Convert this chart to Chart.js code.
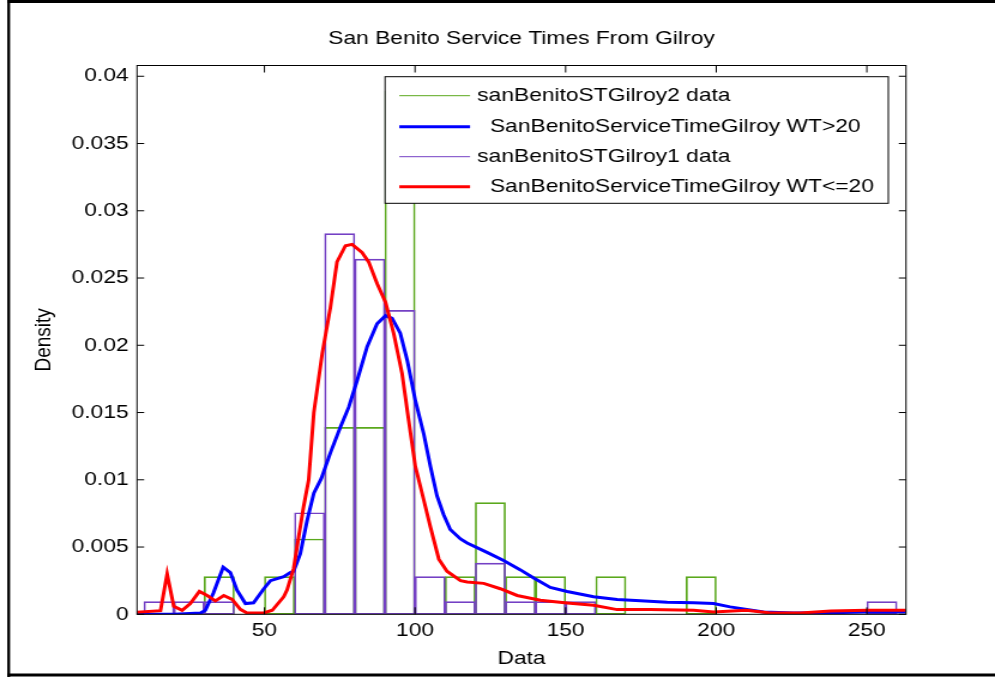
<!DOCTYPE html>
<html>
<head>
<meta charset="utf-8">
<title>San Benito Service Times From Gilroy</title>
<script src="https://cdn.jsdelivr.net/npm/chart.js@4.4.1/dist/chart.umd.min.js"></script>
<style>
	html, body { margin: 0; padding: 0; background: #fff; }
	#canvas-hist-gilroy { display: block; }
</style>
</head>
<body>
<!-- drawn 830 wide and stretched to 995, the reference figure is stretched sideways the same way -->
<canvas id="canvas-hist-gilroy" width="830" height="677" style="width:995px;height:677px"></canvas>
<script>
var binCenters = [15, 25, 35, 45, 55, 65, 75, 85, 95, 105, 115, 125, 135, 145, 155, 165, 175, 185, 195, 205, 215, 225, 235, 245, 255];
var gilroy2Density = [0, 0, 0.0028, 0, 0.0028, 0.0056, 0.0139, 0.0139, 0.0389, 0, 0.0028, 0.0083, 0.0028, 0.0028, 0, 0.0028, 0, 0, 0.0028, 0, 0, 0, 0, 0, 0];
var gilroy1Density = [0.00094, 0.00094, 0.00094, 0, 0, 0.00755, 0.0283, 0.0264, 0.0226, 0.0028, 0.00094, 0.0038, 0.00094, 0.00094, 0.00094, 0, 0, 0, 0, 0, 0, 0, 0, 0, 0.00094];

var wtOver20X = [7.7, 20, 28.8, 30.4, 33.1, 36.3, 38.7, 40.9, 43.7, 46.4, 49.8, 52, 56.4, 58.6, 59.7, 61.9, 64.2, 66.4, 68.9, 71.9, 75.2, 78, 80.8, 84.1, 87.4, 90.2, 92.4, 95.1, 97.4, 100.1, 102.9, 105.1, 107.3, 109.5, 111.7, 115.1, 117.3, 123.9, 129.4, 135, 139.4, 144.9, 150.5, 159.3, 167.1, 174.8, 183.7, 192.5, 199.1, 204.6, 215.7, 225.7, 237.9, 250, 263];
var wtOver20Y = [0, 0, 0.0001, 0.0003, 0.0016, 0.0035, 0.0031, 0.0018, 0.0008, 0.00085, 0.0019, 0.0025, 0.0028, 0.0031, 0.0032, 0.0045, 0.007, 0.009, 0.0101, 0.012, 0.0139, 0.0154, 0.0174, 0.0199, 0.0216, 0.0222, 0.022, 0.0209, 0.0189, 0.0159, 0.0134, 0.011, 0.0088, 0.0074, 0.0063, 0.0056, 0.0053, 0.0046, 0.004, 0.0033, 0.0027, 0.002, 0.0017, 0.0013, 0.0011, 0.001, 0.0009, 0.00085, 0.0008, 0.00055, 0.00017, 0.0001, 0.00012, 0.00017, 0.00017];

var wtUnder20X = [7.7, 15.5, 17.7, 19.9, 22.7, 25.4, 28.4, 31, 33.7, 36.5, 39.3, 42, 44.2, 49.8, 52.6, 56.4, 57.5, 59.7, 61.4, 63, 64.7, 66.4, 69.2, 71.9, 74.1, 76.9, 79.1, 82.4, 84.6, 87.4, 90.2, 92.9, 95.7, 97.9, 100.1, 102.9, 105.1, 107.9, 110.6, 115.1, 117.3, 122.8, 128.3, 133.9, 141.6, 150.5, 159.3, 167.1, 178.1, 192.5, 199.1, 210, 218, 228, 238, 250, 263];
var wtUnder20Y = [0.00015, 0.00027, 0.003, 0.0006, 0.0003, 0.0008, 0.0017, 0.0014, 0.001, 0.0014, 0.0011, 0.00037, 0.0001, 0.0001, 0.0003, 0.0013, 0.0018, 0.0034, 0.0058, 0.008, 0.01, 0.015, 0.0194, 0.0228, 0.0262, 0.0274, 0.0275, 0.0269, 0.0262, 0.0246, 0.0232, 0.0209, 0.0179, 0.0144, 0.011, 0.0085, 0.0065, 0.0041, 0.0032, 0.0025, 0.0024, 0.0023, 0.0019, 0.0014, 0.00104, 0.00084, 0.00067, 0.00035, 0.00035, 0.0003, 0.00017, 0.0003, 0.0001, 0.0001, 0.00025, 0.0003, 0.0003];

var xTickValues = [50, 100, 150, 200, 250];
var yTickValues = [0, 0.005, 0.01, 0.015, 0.02, 0.025, 0.03, 0.035, 0.04];
var legendLabels = ['sanBenitoSTGilroy2 data', '  SanBenitoServiceTimeGilroy WT>20', 'sanBenitoSTGilroy1 data', '  SanBenitoServiceTimeGilroy WT<=20'];

var _fuente = '"Liberation Sans", Arial, Helvetica, sans-serif';
var _verde = 'rgb(90,168,28)';
var _morado = 'rgb(116,64,196)';

Chart.defaults.font.family = _fuente;
Chart.defaults.font.size = 19;
Chart.defaults.color = '#000';

function puntos(xs, ys){
	return xs.map(function(x, i){ return {x: x, y: ys[i]}; });
}

function linea(ctx, x1, y1, x2, y2){
	ctx.beginPath();
	ctx.moveTo(x1, y1);
	ctx.lineTo(x2, y2);
	ctx.stroke();
}

var figuraMatlab = {
	id: 'figuraMatlab',
	beforeDraw: function(chart){
		var ctx = chart.ctx;
		ctx.save();
		ctx.fillStyle = '#fff';
		ctx.fillRect(0, 0, chart.width, chart.height);
		ctx.fillStyle = '#000';
		ctx.fillRect(6.1, 0, 2.3, chart.height);
		ctx.fillRect(6.1, 0, chart.width, 3);
		ctx.fillRect(6.1, 673.5, chart.width, 3);
		ctx.restore();
	},
	afterDatasetsDraw: function(chart){
		var ctx = chart.ctx;
		var a = chart.chartArea;
		var xs = chart.scales.x, ys = chart.scales.y;
		ctx.save();
		ctx.strokeStyle = '#000';
		ctx.lineWidth = 1;
		ctx.strokeRect(a.left, a.top, a.right - a.left, a.bottom - a.top);
		xs.ticks.forEach(function(t){
			var px = xs.getPixelForValue(t.value);
			linea(ctx, px, a.bottom, px, a.bottom - 7);
			linea(ctx, px, a.top, px, a.top + 7);
		});
		ys.ticks.forEach(function(t){
			var py = ys.getPixelForValue(t.value);
			linea(ctx, a.left, py, a.left + 6, py);
			linea(ctx, a.right, py, a.right - 6, py);
		});

		// legend box
		var box = {left: 321.2, top: 76.7, right: 741, bottom: 203.3};
		var filas = [95.7, 126.7, 156.7, 186.7];
		var orden = [3, 1, 2, 0];
		ctx.fillStyle = '#fff';
		ctx.fillRect(box.left, box.top, box.right - box.left, box.bottom - box.top);
		ctx.strokeRect(box.left, box.top, box.right - box.left, box.bottom - box.top);
		ctx.font = '19px ' + _fuente;
		ctx.textBaseline = 'middle';
		ctx.textAlign = 'left';
		orden.forEach(function(idx, fila){
			var ds = chart.data.datasets[idx];
			var y = filas[fila];
			ctx.strokeStyle = ds.borderColor;
			ctx.lineWidth = ds.type === 'line' ? 3 : 1;
			linea(ctx, 333.1, y, 392.1, y);
			ctx.fillStyle = '#000';
			ctx.fillText(ds.label, 398.1, y);
		});
		ctx.restore();
	}
};

var canvasHistGilroy = document.getElementById('canvas-hist-gilroy').getContext('2d');
var chartHistGilroy;

function chartServiceTimes(){
	chartHistGilroy = new Chart(canvasHistGilroy, {
		type: 'bar',
		data: {
			datasets: [{
				type: 'line',
				label: legendLabels[3],
				data: puntos(wtUnder20X, wtUnder20Y),
				borderColor: '#ff0000',
				borderWidth: 3,
				pointRadius: 0,
				fill: false,
				tension: 0
			},
			{
				type: 'line',
				label: legendLabels[1],
				data: puntos(wtOver20X, wtOver20Y),
				borderColor: '#0000ff',
				borderWidth: 3,
				pointRadius: 0,
				fill: false,
				tension: 0
			},
			{
				type: 'bar',
				label: legendLabels[2],
				data: puntos(binCenters, gilroy1Density),
				backgroundColor: 'rgba(0,0,0,0)',
				borderColor: _morado,
				borderWidth: 1,
				borderSkipped: false,
				grouped: false,
				barPercentage: 1,
				categoryPercentage: 1
			},
			{
				type: 'bar',
				label: legendLabels[0],
				data: puntos(binCenters, gilroy2Density),
				backgroundColor: 'rgba(0,0,0,0)',
				borderColor: _verde,
				borderWidth: 1,
				borderSkipped: false,
				grouped: false,
				barPercentage: 1,
				categoryPercentage: 1
			}]
		},
		options: {
			responsive: false,
			animation: false,
			devicePixelRatio: 1,
			events: [],
			layout: {
				padding: {left: 10, right: 74.25, top: 0, bottom: 0}
			},
			plugins: {
				legend: { display: false },
				tooltip: { enabled: false },
				title: {
					display: true,
					text: 'San Benito Service Times From Gilroy',
					fullSize: false,
					font: { size: 19, weight: 'normal' },
					padding: {top: 27.6, bottom: 15.1}
				}
			},
			scales: {
				x: {
					type: 'linear',
					min: 7.7,
					max: 263,
					offset: false,
					grid: { display: false, drawTicks: false },
					border: { display: false },
					afterBuildTicks: function(s){ s.ticks = xTickValues.map(function(v){ return {value: v}; }); },
					afterFit: function(s){ s.height = 62.7; },
					ticks: {
						padding: 5.3,
						maxRotation: 0,
						autoSkip: false,
						callback: function(v){ return String(v); }
					},
					title: {
						display: true,
						text: 'Data',
						padding: {top: 0, bottom: 6.6}
					}
				},
				y: {
					type: 'linear',
					min: 0,
					max: 0.0408,
					grid: { display: false, drawTicks: false },
					border: { display: false },
					afterBuildTicks: function(s){ s.ticks = yTickValues.map(function(v){ return {value: v}; }); },
					afterFit: function(s){ s.width = 104.28; },
					ticks: {
						padding: 7,
						autoSkip: false,
						callback: function(v){ return String(+v.toFixed(3)); }
					},
					title: {
						display: true,
						text: 'Density',
						padding: {top: 15.3, bottom: 0}
					}
				}
			}
		},
		plugins: [figuraMatlab]
	});
}

chartServiceTimes();
</script>
</body>
</html>
